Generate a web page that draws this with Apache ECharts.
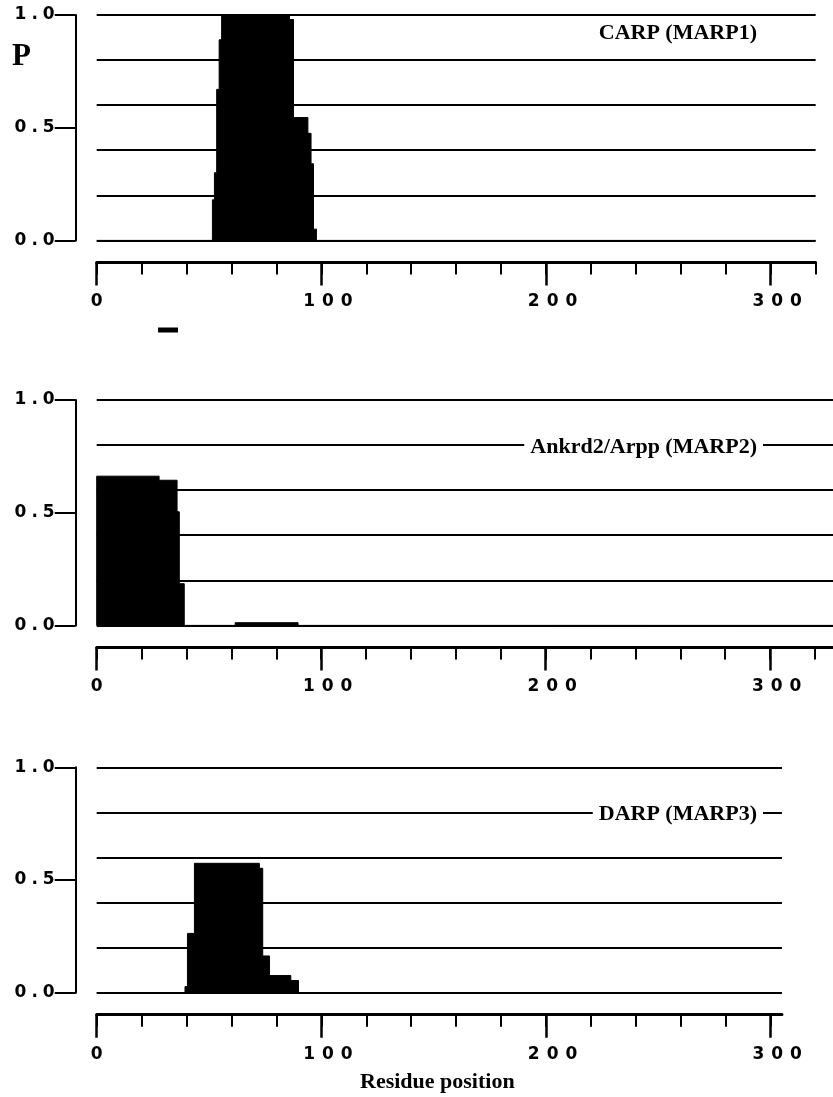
<!DOCTYPE html>
<html><head><meta charset="utf-8">
<script src="https://cdn.jsdelivr.net/npm/echarts@6/dist/echarts.min.js"></script>
<style>html,body{margin:0;padding:0;background:#fff}#c{width:833px;height:1097px}</style>
</head><body><div id="c"></div>
<script>
// ---- data ----
const panelTitles = ['CARP (MARP1)', 'Ankrd2/Arpp (MARP2)', 'DARP (MARP3)'];
const yAxisName = 'P';
const xAxisName = 'Residue position';
const xTickLabels = [0, 100, 200, 300];
const yTickLabels = [0, 0.5, 1.0];
// step profiles: residue boundaries and probability held between consecutive boundaries
const carpEdges = [51.5, 52.4, 53.4, 54.5, 55.6, 85.8, 87.6, 94.0, 95.4, 96.5, 97.8];
const carpP     = [0.18, 0.30, 0.67, 0.89, 1.00, 0.98, 0.545, 0.475, 0.34, 0.05];
const ankrdEdges = [0, 27.8, 35.8, 36.8, 39.0, 61.7, 89.7];
const ankrdP     = [0.662, 0.644, 0.504, 0.185, 0, 0.012];
const darpEdges = [39.3, 40.4, 43.5, 72.4, 73.9, 76.9, 86.4, 89.8];
const darpP     = [0.027, 0.263, 0.574, 0.552, 0.163, 0.076, 0.054];
const markerRange = [27.3, 36.2];
const residueMax = [320, 328, 305];

// ---- layout ----
const X0 = 96.7, PX = 2.2467, H = 225.4;
const tops = [15, 400, 767.3];
const titleTops = [20, 434, 801];
const FONT = 'DejaVu Sans';
const SERIF = 'Liberation Serif';

function stepData(edges, p, max) {
  const d = [[0, 0]];
  for (let i = 0; i < p.length; i++) d.push([edges[i], p[i]]);
  d.push([edges[edges.length - 1], 0]);
  d.push([max, 0]);
  return d;
}
const profiles = [
  stepData(carpEdges, carpP, residueMax[0]),
  stepData(ankrdEdges, ankrdP, residueMax[1]),
  stepData(darpEdges, darpP, residueMax[2])
];

const lblBase = {fontFamily: FONT, fontWeight: 'bold', fontSize: 17, color: '#000'};
const richX = {
  f: Object.assign({}, lblBase, {padding: [0, 7, 0, 13]}),
  a: Object.assign({}, lblBase, {padding: [0, 7, 0, 0]}),
  e: Object.assign({}, lblBase, {padding: [0, 0, 0, 0]})
};
const richY = {
  a: Object.assign({}, lblBase, {padding: [0, 5, 0, 0]}),
  e: Object.assign({}, lblBase, {padding: [0, 0, 0, 0]})
};
function xFmt(v) {
  const s = String(v);
  if (s.length === 1) return '{e|' + s + '}';
  return s.split('').map((c, i) => i === 0 ? '{f|' + c + '}' : (i < s.length - 1 ? '{a|' + c + '}' : '{e|' + c + '}')).join('');
}
function yFmt(v) {
  const s = Number(v).toFixed(1);
  return s.split('').map((c, i) => (i < s.length - 1 ? '{a|' + c + '}' : '{e|' + c + '}')).join('');
}

const grid = [], xAxis = [], yAxis = [], series = [], title = [];
for (let i = 0; i < 3; i++) {
  const M = residueMax[i];
  grid.push({left: X0, top: tops[i], width: M * PX, height: H});
  const minor = [];
  for (let k = 0; k <= Math.min(M, 320); k += 20) minor.push(k);
  xAxis.push({
    type: 'value', gridIndex: i, min: 0, max: M, interval: 20, position: 'bottom', offset: 22,
    axisLine: {show: true, onZero: false, lineStyle: {color: '#000', width: 3}},
    axisTick: {show: true, length: 12, lineStyle: {color: '#000', width: 2}, customValues: minor},
    axisLabel: {show: false}, splitLine: {show: false}
  });
  xAxis.push({
    type: 'value', gridIndex: i, min: 0, max: M, interval: 100, position: 'bottom', offset: 22,
    axisLine: {show: false, onZero: false},
    axisTick: {show: true, length: 23, lineStyle: {color: '#000', width: 2.5}, customValues: xTickLabels},
    axisLabel: {show: true, customValues: xTickLabels, formatter: xFmt, rich: richX, margin: 31},
    splitLine: {show: false}
  });
  yAxis.push({
    type: 'value', gridIndex: i, min: 0, max: 1, interval: 0.5, position: 'left', offset: 21,
    axisLine: {show: true, onZero: false, lineStyle: {color: '#000', width: 2}},
    axisTick: {show: true, length: 21, lineStyle: {color: '#000', width: 2}, customValues: yTickLabels},
    axisLabel: {show: true, customValues: yTickLabels, formatter: yFmt, rich: richY, margin: 21},
    splitLine: {show: false}
  });
  yAxis.push({
    type: 'value', gridIndex: i, min: 0, max: 1, interval: 0.2,
    axisLine: {show: false, onZero: false}, axisTick: {show: false}, axisLabel: {show: false},
    splitLine: {show: true, lineStyle: {color: '#000', width: 2}}
  });
  series.push({
    type: 'line', xAxisIndex: 2 * i, yAxisIndex: 2 * i, step: 'end', data: profiles[i],
    symbol: 'none', silent: true,
    lineStyle: {color: '#000', width: 1}, areaStyle: {color: '#000', opacity: 1}
  });
  title.push({
    text: panelTitles[i], right: 833 - 763, top: titleTops[i], padding: [2, 6, 2, 6],
    backgroundColor: '#fff', z: 10,
    textStyle: {fontFamily: SERIF, fontWeight: 'bold', fontSize: 22, color: '#000'}
  });
}
// small marker bar under the first panel
grid.push({left: X0, top: 327.5, width: 320 * PX, height: 5});
xAxis.push({type: 'value', gridIndex: 3, min: 0, max: 320, show: false});
yAxis.push({type: 'value', gridIndex: 3, min: 0, max: 1, show: false});
series.push({
  type: 'line', xAxisIndex: 6, yAxisIndex: 6, symbol: 'none', silent: true,
  data: [[markerRange[0], 0.5], [markerRange[1], 0.5]],
  lineStyle: {color: '#000', width: 5, cap: 'butt'}
});
title.push({text: yAxisName, left: 12, top: 41, padding: 0,
  textStyle: {fontFamily: SERIF, fontWeight: 'bold', fontSize: 31, color: '#000'}});
title.push({text: xAxisName, left: 360, top: 1071, padding: 0,
  textStyle: {fontFamily: SERIF, fontWeight: 'bold', fontSize: 22, color: '#000'}});

const chart = echarts.init(document.getElementById('c'), null, {renderer: 'canvas'});
chart.setOption({animation: false, backgroundColor: '#fff', title, grid, xAxis, yAxis, series});
</script></body></html>
